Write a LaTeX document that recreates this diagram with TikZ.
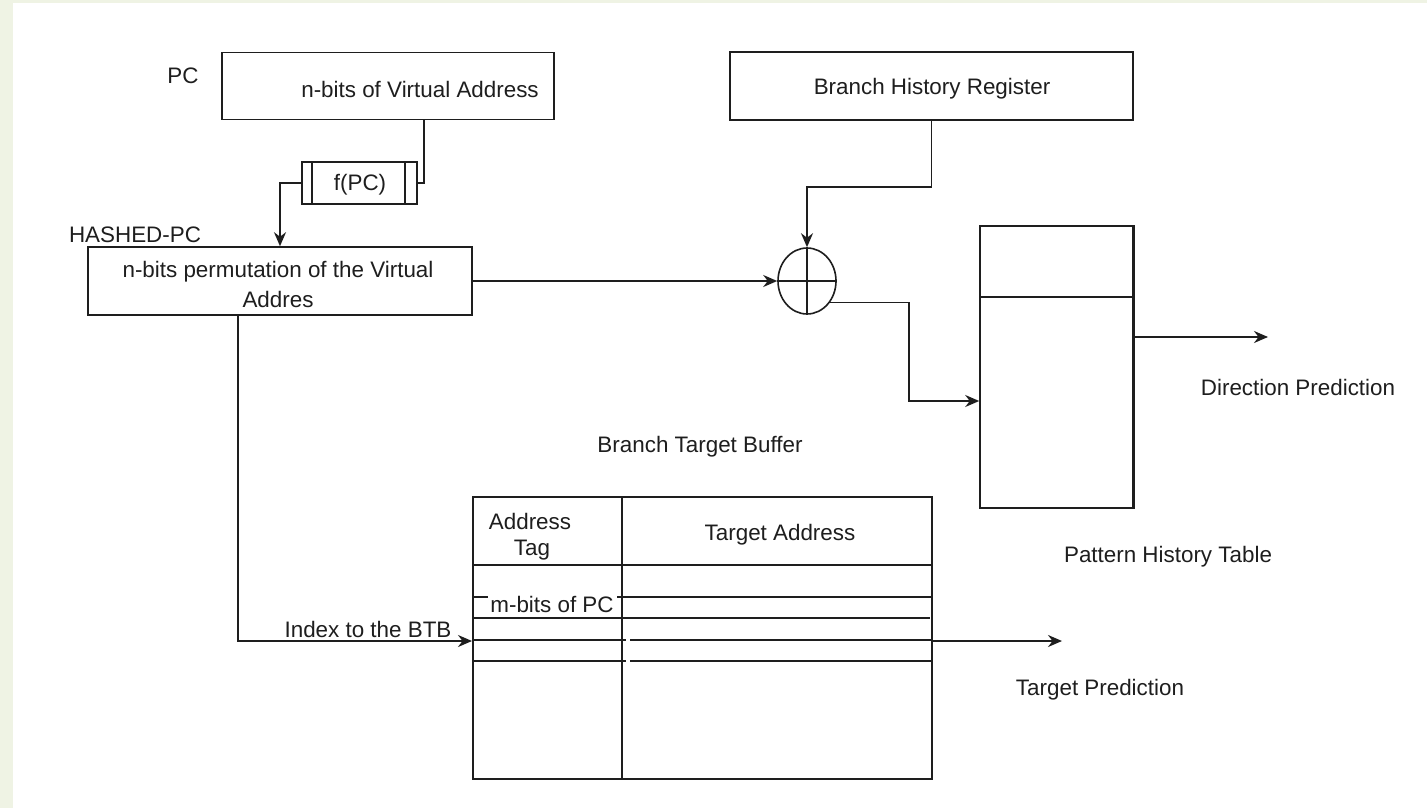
\documentclass[tikz,border=0pt]{standalone}
\usepackage{fontspec}
\setmainfont{Liberation Sans}
\usetikzlibrary{arrows.meta,shapes.geometric,calc}
\definecolor{pagebg}{RGB}{239,243,228}
\definecolor{ink}{RGB}{30,30,30}
\begin{document}
\begin{tikzpicture}[x=0.5pt,y=-0.5pt,
  every node/.style={font=\fontsize{11.2}{13}\selectfont,text=ink,inner sep=0pt},
  blockbox/.style={draw=ink,line width=0.8pt,rectangle,anchor=center},
  label/.style={anchor=center},
  wire/.style={draw=ink,line width=0.9pt},
  arrowwire/.style={wire,-{Stealth[length=7pt,width=6pt]}}]
  % page background with the pale strip on the left and top
  \fill[pagebg] (0,0) rectangle (1427,808);
  \fill[white] (13,3) rectangle (1427,808);
  \useasboundingbox (0,0) rectangle (1427,808);

  % registers
  \node[blockbox,minimum width=166pt,minimum height=33.5pt] (pc) at (388,86) {};
  \node[label] (pctext) at (420,89) {n-bits of Virtual Address};
  \node[label] (pclbl) at (183,76) {PC};
  \node[blockbox,minimum width=201.5pt,minimum height=34pt] (bhr) at (931.5,86) {};
  \node[label] (bhrtext) at (932,89) {Branch History Register};

  % hash function
  \node[blockbox,minimum width=57.5pt,minimum height=21pt] (fpc) at (359.5,183) {};
  \node[label] (fpctext) at (360,185) {f(PC)};
  \draw[ink,line width=0.8pt] ([xshift=5.5pt]fpc.north west) -- ([xshift=5.5pt]fpc.south west);
  \draw[ink,line width=0.8pt] ([xshift=-6.5pt]fpc.north east) -- ([xshift=-6.5pt]fpc.south east);

  % hashed PC
  \node[blockbox,minimum width=192pt,minimum height=34pt] (hashed) at (280,281) {};
  \node[label,align=center] (hashedtext) at (278,284)
    {n-bits permutation of the Virtual\\[2pt]Addres};
  \node[label] (hashedlbl) at (135,235) {HASHED-PC};

  % xor
  \node[draw=ink,line width=0.8pt,ellipse,minimum width=29pt,minimum height=33pt] (xor) at (807,281) {};
  \draw[ink,line width=0.7pt] (xor.north) -- (xor.south) (xor.west) -- (xor.east);

  % pattern history table
  \node[blockbox,minimum width=76.5pt,minimum height=141pt] (pht) at (1056.5,367) {};
  \draw[ink,line width=0.9pt] (pht.north west |- 0,297) -- (pht.north east |- 0,297);
  \draw[ink,line width=1.3pt] (pht.north east) -- (pht.south east);
  \node[label] (phtlbl) at (1168,557) {Pattern History Table};

  % branch target buffer
  \node[blockbox,line width=1pt,minimum width=229.5pt,minimum height=141pt] (btb) at (702.5,638) {};
  \node[label] (btblbl) at (700,447) {Branch Target Buffer};
  \draw[ink,line width=0.8pt] (622,497) -- (622,779);
  \draw[ink,line width=0.8pt] (473,565) -- (932,565);
  \draw[ink,line width=0.9pt] (473,597) -- (488,597) (617,597) -- (932,597);
  \draw[ink,line width=0.9pt] (473,618) -- (930,618);
  \draw[ink,line width=0.9pt] (473,640) -- (626,640) (630,640) -- (932,640);
  \draw[ink,line width=0.9pt] (473,661) -- (626,661) (630,661) -- (932,661);
  \node[label] (tagcol1) at (530,521) {Address};
  \node[label] (tagcol2) at (532,550) {Tag};
  \node[label] (tgtcol) at (780,535) {Target Address};
  \node[label] (mbits) at (552,604) {m-bits of PC};

  % connectors
  \draw[wire] ([xshift=18pt]pc.south) |- (fpc.east);
  \draw[arrowwire] (fpc.west) -| (hashed.north);
  \draw[arrowwire] (hashed.east) -- (xor.west);
  \draw[arrowwire] (bhr.south) -- ++(0,66) -| (xor.north);
  \coordinate (bend) at (909,401);
  \draw[arrowwire] (xor.-43) -| (bend) -- (bend -| pht.west);
  \coordinate (dirend) at (1268,337);
  \draw[arrowwire] (pht.east |- dirend) -- (dirend);
  \node[label] (dirlbl) at (1298,387) {Direction Prediction};
  \draw[arrowwire] ([xshift=-21pt]hashed.south) |- ([yshift=-1.5pt]btb.west);
  \node[label] (idxlbl) at (368,629) {Index to the BTB};
  \coordinate (tgtend) at (1062,641);
  \draw[arrowwire] (btb.east |- tgtend) -- (tgtend);
  \node[label] (tgtlbl) at (1100,690) {Target Prediction};
\end{tikzpicture}
\end{document}
